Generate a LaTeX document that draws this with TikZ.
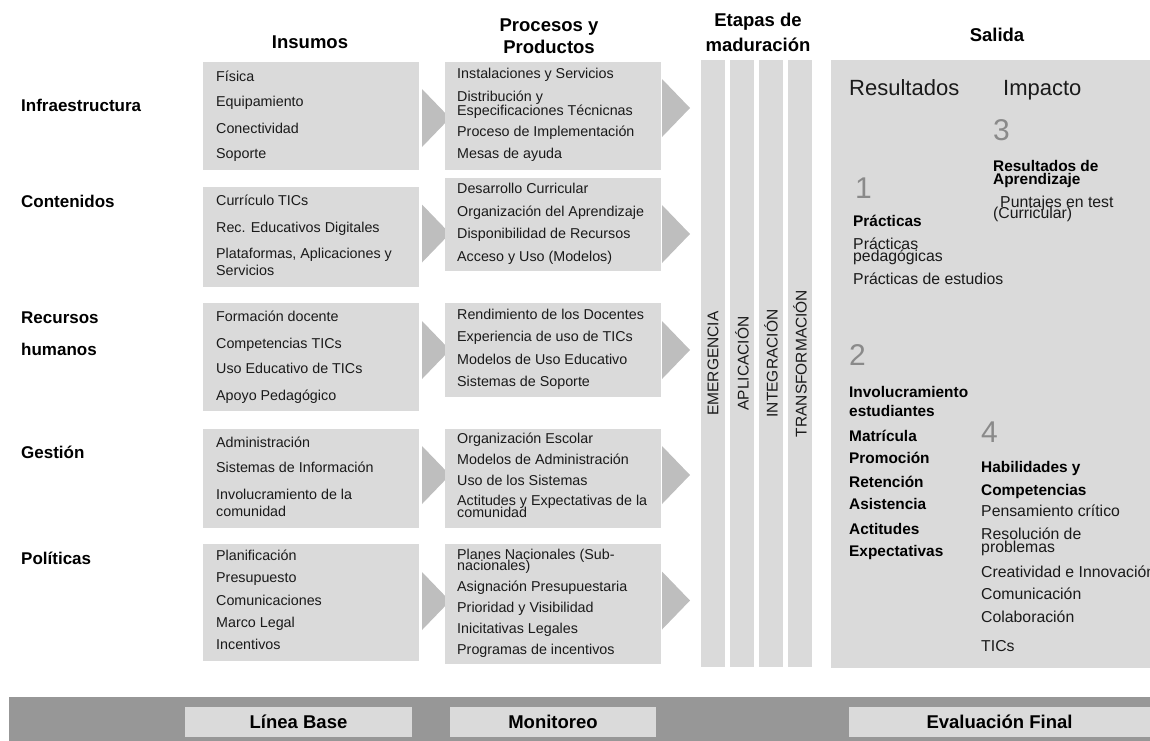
\documentclass[tikz,border=0pt]{standalone}
\usepackage{fontspec}
\setmainfont{Liberation Sans}
\definecolor{boxgray}{HTML}{DADADA}
\definecolor{arrowgray}{HTML}{BEBEBE}
\definecolor{bargray}{HTML}{979797}
\definecolor{numgray}{HTML}{8A8A8A}
\definecolor{txt}{HTML}{1A1A1A}

\begin{document}
\begin{tikzpicture}[x=1pt, y=-1pt,
  item/.style={anchor=west, inner sep=0pt, text=txt, text height=10.5pt, text depth=3pt, font=\fontsize{14.3}{14}\selectfont},
  rowlabel/.style={anchor=west, inner sep=0pt, text=black, text height=12.5pt, text depth=3.6pt, font=\bfseries\fontsize{17}{20}\selectfont},
  colhead/.style={inner sep=0pt, text=black, text height=13.5pt, text depth=4pt, font=\bfseries\fontsize{18.5}{22}\selectfont},
  outtitle/.style={anchor=west, inner sep=0pt, text=txt, text height=16pt, text depth=4.5pt, font=\fontsize{22}{24}\selectfont},
  outnum/.style={anchor=west, inner sep=0pt, text=numgray, text height=21.5pt, text depth=0pt, font=\fontsize{30}{30}\selectfont},
  outtext/.style={anchor=west, inner sep=0pt, text=txt, text height=11.5pt, text depth=3.3pt, font=\fontsize{15.8}{16}\selectfont},
  outbold/.style={anchor=west, inner sep=0pt, text=black, text height=11.5pt, text depth=3.3pt, font=\bfseries\fontsize{15.4}{16}\selectfont},
  stage/.style={fill=boxgray, rotate=90, minimum width=607pt, minimum height=24pt, inner sep=0pt, text=txt, font=\fontsize{15.5}{16}\selectfont},
  phase/.style={fill=boxgray, minimum height=30pt, inner sep=0pt, text=black, font=\bfseries\fontsize{18.5}{20}\selectfont}]
\useasboundingbox (0,0) rectangle (1150,740);
\clip (0,0) rectangle (1150,740);

\node[colhead] (hins) at (310,44) {Insumos};
\node[colhead] (hproc1) at (549,27) {Procesos y};
\node[colhead] (hproc2) at (549,49) {Productos};
\node[colhead] (hetap1) at (758,22) {Etapas de};
\node[colhead] (hetap2) at (758,47) {maduración};
\node[colhead] (hsal) at (997,37) {Salida};

\node[rowlabel] (rinfra) at (21,107) {Infraestructura};
\node[rowlabel] (rcont) at (21,203) {Contenidos};
\node[rowlabel] (rrec1) at (21,319) {Recursos};
\node[rowlabel] (rrec2) at (21,351) {humanos};
\node[rowlabel] (rgest) at (21,454) {Gestión};
\node[rowlabel] (rpol) at (21,560) {Políticas};

\foreach \t/\b in {62/170,187/287,303/411,429/528,544/661}
  \fill[boxgray] (203,\t) rectangle (419,\b);
\foreach \m in {118,233.5,350,475,601}
  \fill[arrowgray] (422,{\m-29}) -- (450,\m) -- (422,{\m+29}) -- cycle;
\foreach \t/\b in {62/170,178/271,303/397,429/528,544/664}
  \fill[boxgray] (445,\t) rectangle (661,\b);
\foreach \m in {108,234,350,475,600.5}
  \fill[arrowgray] (662,{\m-29}) -- (690,\m) -- (662,{\m+29}) -- cycle;

\foreach \y/\t [count=\i] in {78/Física,103/Equipamiento,130/Conectividad,155/Soporte}
  \node[item] (insinfra\i) at (216,\y) {\t};
\foreach \y/\t [count=\i] in {202/Currículo TICs,229/Rec. Educativos Digitales,255/{Plataformas, Aplicaciones y},272/Servicios}
  \node[item] (inscont\i) at (216,\y) {\t};
\foreach \y/\t [count=\i] in {318/Formación docente,345/Competencias TICs,370/Uso Educativo de TICs,397/Apoyo Pedagógico}
  \node[item] (insrec\i) at (216,\y) {\t};
\foreach \y/\t [count=\i] in {444/Administración,469/Sistemas de Información,496/Involucramiento de la,513/comunidad}
  \node[item] (insgest\i) at (216,\y) {\t};
\foreach \y/\t [count=\i] in {557/Planificación,579/Presupuesto,602/Comunicaciones,624/Marco Legal,646/Incentivos}
  \node[item] (inspol\i) at (216,\y) {\t};

\foreach \y/\t [count=\i] in {75/Instalaciones y Servicios,98/Distribución y,112/Especificaciones Técnicnas,133/Proceso de Implementación,155/Mesas de ayuda}
  \node[item] (procinfra\i) at (457,\y) {\t};
\foreach \y/\t [count=\i] in {190/Desarrollo Curricular,213/Organización del Aprendizaje,235/Disponibilidad de Recursos,258/Acceso y Uso (Modelos)}
  \node[item] (proccont\i) at (457,\y) {\t};
\foreach \y/\t [count=\i] in {316/Rendimiento de los Docentes,338/Experiencia de uso de TICs,361/Modelos de Uso Educativo,383/Sistemas de Soporte}
  \node[item] (procrec\i) at (457,\y) {\t};
\foreach \y/\t [count=\i] in {440/Organización Escolar,461/Modelos de Administración,482/Uso de los Sistemas,502/Actitudes y Expectativas de la,514/comunidad}
  \node[item] (procgest\i) at (457,\y) {\t};
\foreach \y/\t [count=\i] in {556/Planes Nacionales (Sub-,567/nacionales),588/Asignación Presupuestaria,609/Prioridad y Visibilidad,630/Inicitativas Legales,651/Programas de incentivos}
  \node[item] (procpol\i) at (457,\y) {\t};

\node[stage] (emer) at (713,363.5) {EMERGENCIA};
\node[stage] (apli) at (742,363.5) {APLICACIÓN};
\node[stage] (integ) at (771,363.5) {INTEGRACIÓN};
\node[stage] (transf) at (800,363.5) {TRANSFORMACIÓN};

\fill[boxgray] (831,60) rectangle (1160,668);
\node[outtitle] (resul) at (849,90) {Resultados};
\node[outtitle] (impac) at (1003,90) {Impacto};
\node[outnum] (num3) at (993,130) {3};
\node[outbold] (aprend1) at (993,167) {Resultados de};
\node[outbold] (aprend2) at (993,180) {Aprendizaje};
\node[outtext] (punt1) at (1000,203) {Puntajes en test};
\node[outtext] (punt2) at (993,214) {(Curricular)};
\node[outnum] (num1) at (855,188) {1};
\node[outbold] (pract) at (853,222) {Prácticas};
\node[outtext] (pract1) at (853,245) {Prácticas};
\node[outtext] (pract2) at (853,257) {pedagógicas};
\node[outtext] (pract3) at (853,280) {Prácticas de estudios};
\node[outnum] (num2) at (849,355) {2};
\foreach \y/\t [count=\i] in {393/Involucramiento,412/estudiantes,437/Matrícula,459/Promoción,483/Retención,505/Asistencia,530/Actitudes,552/Expectativas}
  \node[outbold] (invol\i) at (849,\y) {\t};
\node[outnum] (num4) at (981,432) {4};
\node[outbold] (habil1) at (981,468) {Habilidades y};
\node[outbold] (habil2) at (981,491) {Competencias};
\foreach \y/\t [count=\i] in {512/Pensamiento crítico,535/Resolución de,548/problemas,573/Creatividad e Innovación,595/Comunicación,618/Colaboración,647/TICs}
  \node[outtext] (comp\i) at (981,\y) {\t};

\fill[bargray] (9,697) rectangle (1160,745);
\node[phase, minimum width=227pt] (lbase) at (298.5,722) {Línea Base};
\node[phase, minimum width=206pt] (monit) at (553,722) {Monitoreo};
\node[phase, minimum width=301pt] (evalf) at (999.5,722) {Evaluación Final};
\end{tikzpicture}
\end{document}
